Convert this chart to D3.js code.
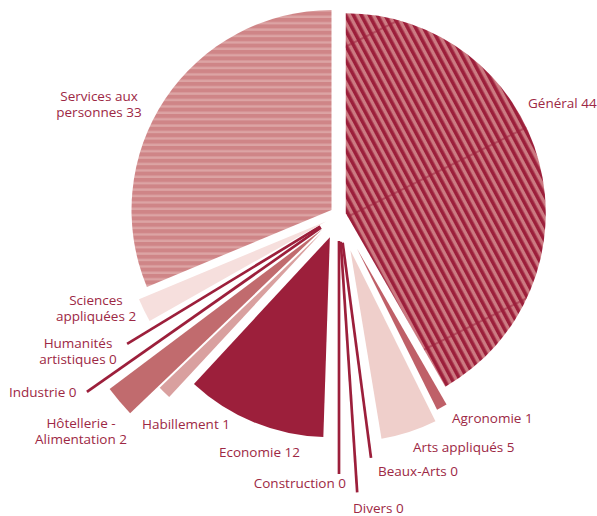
<!DOCTYPE html>
<html>
<head>
<meta charset="utf-8">
<script src="https://cdn.jsdelivr.net/npm/d3@7"></script>
<style>
  html, body { margin: 0; padding: 0; background: #ffffff; }
  svg text { font-family: "Open Sans", "Noto Sans", sans-serif; font-size: 13.5px; fill: #9d2844; }
</style>
</head>
<body>
<svg id="chart" width="597" height="516"></svg>
<script>
// Répartition par orientation (%)
const categories = [
  "Général", "Agronomie", "Arts appliqués", "Beaux-Arts", "Divers", "Construction",
  "Economie", "Habillement", "Hôtellerie - Alimentation", "Industrie",
  "Humanités artistiques", "Sciences appliquées", "Services aux personnes"
];
const values = [44, 1, 5, 0, 0, 0, 12, 1, 2, 0, 0, 2, 33];

// Label text, broken into lines; the value is appended to the last line
const labelLines = [
  ["Général"], ["Agronomie"], ["Arts appliqués"], ["Beaux-Arts"], ["Divers"], ["Construction"],
  ["Economie"], ["Habillement"], ["Hôtellerie -", "Alimentation"], ["Industrie"],
  ["Humanités", "artistiques"], ["Sciences", "appliquées"], ["Services aux", "personnes"]
];

// ---- layout & style ----
const center = [339, 215];
const ZERO_SLOT = 1.1;          // angular room kept for a zero entry (drawn as a rule)
const explode = [7, 38, 37, 28, 27, 26, 24, 25, 22, 22, 22, 14, 9];
const reach   = [200, 180, 191, 217, 251, 233, 200, 224, 266, 286, 226, 203, 200];
const fills = [
  "url(#hatchGeneral)", "#bf6068", "#efcfcb", "#9c1f3b", "#9c1f3b", "#9c1f3b",
  "#9c1f3b", "#d9a09f", "#c16b6e", "#9c1f3b", "#9c1f3b", "#f6dfdd", "url(#hatchServices)"
];
// label anchor relative to the pie centre: [dx, dy of first baseline, text-anchor]
const labelPos = [
  [189, -107, "start"], [113, 208, "start"], [74, 237, "start"], [39, 261, "start"],
  [14, 298, "start"], [7, 273, "end"], [-120, 242, "start"], [-197, 214, "start"],
  [-258, 213, "middle"], [-330, 182, "start"], [-261, 133, "middle"], [-243, 90, "middle"],
  [-240, -114, "middle"]
];
const lineGap = 16;

const data = categories.map((c, i) => ({ name: c, value: values[i], i }));

const svg = d3.select("#chart");
const defs = svg.append("defs");

// diagonal hatch for "Général"
const pg = defs.append("pattern")
  .attr("id", "hatchGeneral").attr("patternUnits", "userSpaceOnUse")
  .attr("width", 7).attr("height", 7).attr("patternTransform", "rotate(-28)");
pg.append("rect").attr("width", 7).attr("height", 7).attr("fill", "#cc7a82");
pg.append("rect").attr("width", 3.6).attr("height", 7).attr("fill", "#9c1f3b");

// faint tile seams running across the diagonal hatch
const pseam = defs.append("pattern")
  .attr("id", "seamGeneral").attr("patternUnits", "userSpaceOnUse")
  .attr("width", 20).attr("height", 153).attr("patternTransform", "rotate(-26.57)");
pseam.append("rect").attr("y", 3.5).attr("width", 20).attr("height", 1).attr("fill", "#9c1f3b");

// horizontal bands for "Services aux personnes"
const ps = defs.append("pattern")
  .attr("id", "hatchServices").attr("patternUnits", "userSpaceOnUse")
  .attr("width", 10).attr("height", 6.4);
ps.append("rect").attr("width", 10).attr("height", 6.4).attr("fill", "#dca4a4");
ps.append("rect").attr("width", 10).attr("height", 4).attr("fill", "#cf8587");

const pie = d3.pie().sort(null).value(d => d.value > 0 ? d.value : ZERO_SLOT);
const arcs = pie(data);

const g = svg.append("g").attr("transform", `translate(${center[0]},${center[1]})`);

const slices = g.selectAll("g.slice").data(arcs).join("g")
  .attr("class", "slice")
  .attr("transform", d => {
    const mid = (d.startAngle + d.endAngle) / 2;
    const [x, y] = d3.pointRadial(mid, explode[d.data.i]);
    return `translate(${x},${y})`;
  });

const sectorPath = d => d3.arc().innerRadius(0).outerRadius(reach[d.data.i])(d);

// sectors for non-zero entries
slices.filter(d => d.data.value > 0).append("path")
  .attr("d", sectorPath)
  .attr("fill", d => fills[d.data.i]);

// seam overlay on the hatched "Général" sector
slices.filter(d => d.data.i === 0).append("path")
  .attr("d", sectorPath)
  .attr("fill", "url(#seamGeneral)");

// zero entries: a single rule along the middle of their slot
slices.filter(d => d.data.value === 0).append("line")
  .attr("x1", 0).attr("y1", 0)
  .attr("x2", d => d3.pointRadial((d.startAngle + d.endAngle) / 2, reach[d.data.i])[0])
  .attr("y2", d => d3.pointRadial((d.startAngle + d.endAngle) / 2, reach[d.data.i])[1])
  .attr("stroke", d => fills[d.data.i])
  .attr("stroke-width", 2.7);

// labels
const labels = g.selectAll("text.lbl").data(data).join("text")
  .attr("class", "lbl")
  .attr("text-anchor", d => labelPos[d.i][2])
  .attr("transform", d => `translate(${labelPos[d.i][0]},${labelPos[d.i][1]})`);
labels.each(function (d) {
  const lines = labelLines[d.i].slice();
  lines[lines.length - 1] += " " + d.value;
  d3.select(this).selectAll("tspan").data(lines).join("tspan")
    .attr("x", 0).attr("y", (t, k) => k * lineGap).text(t => t);
});
</script>
</body>
</html>
